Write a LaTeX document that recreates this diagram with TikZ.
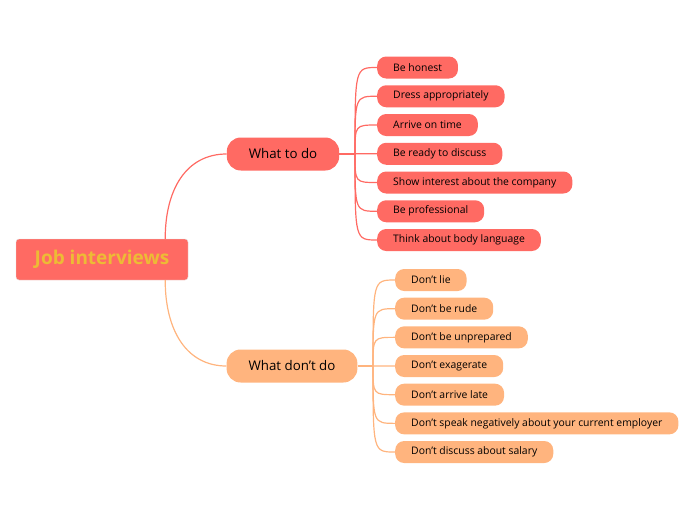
\documentclass[tikz,border=0pt]{standalone}
\usepackage{fontspec}
\setmainfont{Open Sans}
\definecolor{doRed}{HTML}{FF6A63}
\definecolor{dontOrange}{HTML}{FFB47E}
\definecolor{rootGold}{HTML}{EDBB35}

\begin{document}
\begin{tikzpicture}[x=1pt,y=-1pt,
	leaf/.style={rounded corners=9pt, minimum height=22pt, inner xsep=16pt, inner ysep=0pt,
		anchor=west, font=\fontsize{10.4}{12}\selectfont},
	branch/.style={rounded corners=14pt, minimum height=33pt, inner xsep=22pt, inner ysep=0pt,
		font=\fontsize{13.3}{15}\selectfont},
	redline/.style={draw=doRed, line width=1.2pt},
	orangeline/.style={draw=dontOrange, line width=1.2pt}]
	\useasboundingbox (0,0) rectangle (696,520);
	% central topic
	\node[fill=doRed, draw=black!12, rounded corners=3pt, minimum width=172pt, minimum height=41pt,
		font=\fontsize{19}{21}\bfseries, text=rootGold] (root) at (102,259.5) {Job interviews};
	% main branches
	\node[branch, fill=doRed] (todo) at (283,154) {What to do};
	\node[branch, fill=dontOrange] (dont) at (292,366) {What don’t do};
	\draw[redline] ([xshift=-23pt]root.north east) .. controls +(0,-50) and +(-40,0) .. (todo.west);
	\draw[orangeline] ([xshift=-23pt]root.south east) .. controls +(0,50) and +(-40,0) .. (dont.west);
	% what to do
	\foreach \txt [count=\i] in {Be honest, Dress appropriately, Arrive on time, Be ready to discuss,
		Show interest about the company, Be professional, Think about body language}
		\node[leaf, fill=doRed] (do\i) at ({377},{38.75+28.75*\i}) {\txt};
	\coordinate (tj) at (355,154);
	\draw[redline] (todo.east) -- (tj);
	\foreach \i in {1,...,7}
		\draw[redline] (tj) .. controls (tj |- do\i.west) .. (do\i.west);
	% what don't do
	\foreach \txt [count=\i] in {Don’t lie, Don’t be rude, Don’t be unprepared, Don’t exagerate,
		Don’t arrive late, Don’t speak negatively about your current employer, Don’t discuss about salary}
		\node[leaf, fill=dontOrange] (dn\i) at ({395},{251.33+28.67*\i}) {\txt};
	\coordinate (dj) at (373,366);
	\draw[orangeline] (dont.east) -- (dj);
	\foreach \i in {1,...,7}
		\draw[orangeline] (dj) .. controls (dj |- dn\i.west) .. (dn\i.west);
\end{tikzpicture}
\end{document}
